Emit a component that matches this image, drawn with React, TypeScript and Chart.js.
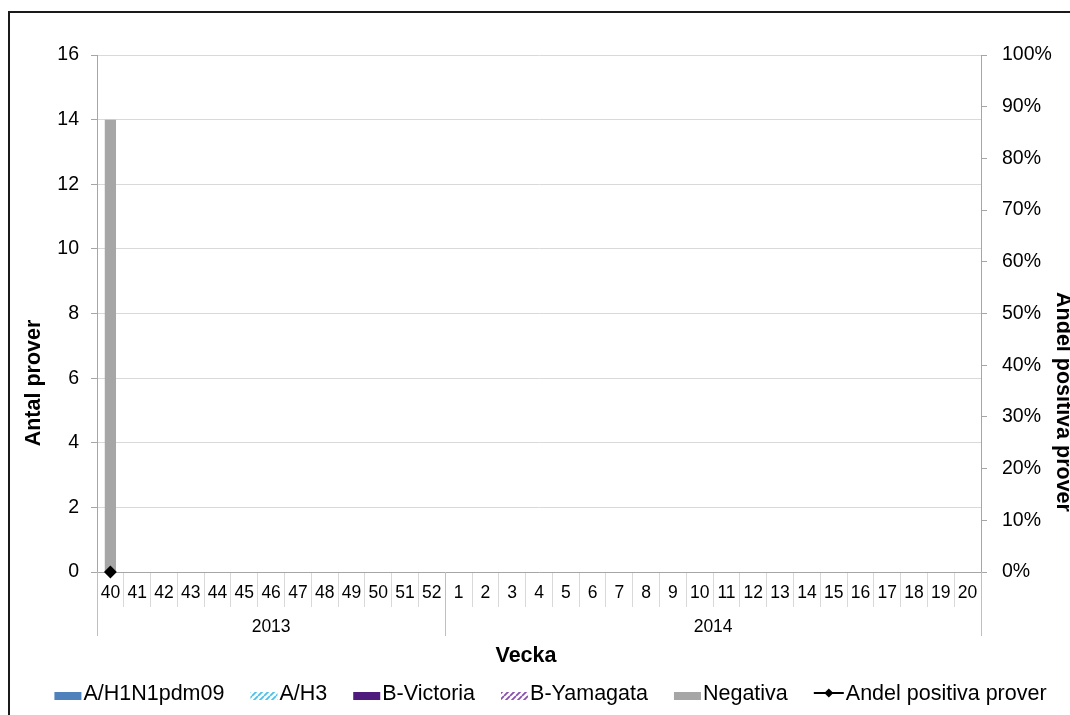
import React, { useEffect, useRef } from 'react';
import { Chart, registerables } from 'chart.js';

Chart.register(...registerables);

const FONT = '"Liberation Sans", Arial, sans-serif';

const weeks = ['40', '41', '42', '43', '44', '45', '46', '47', '48', '49', '50', '51', '52',
  '1', '2', '3', '4', '5', '6', '7', '8', '9', '10', '11', '12', '13', '14', '15', '16', '17', '18', '19', '20'];
const years = ['2013', '2014'];
const weeksPerYear = [13, 20];

const h1n1 = [0, null, null, null, null, null, null, null, null, null, null, null, null,
  null, null, null, null, null, null, null, null, null, null, null, null, null, null, null, null, null, null, null, null];
const h3 = [0, null, null, null, null, null, null, null, null, null, null, null, null,
  null, null, null, null, null, null, null, null, null, null, null, null, null, null, null, null, null, null, null, null];
const bVictoria = [0, null, null, null, null, null, null, null, null, null, null, null, null,
  null, null, null, null, null, null, null, null, null, null, null, null, null, null, null, null, null, null, null, null];
const bYamagata = [0, null, null, null, null, null, null, null, null, null, null, null, null,
  null, null, null, null, null, null, null, null, null, null, null, null, null, null, null, null, null, null, null, null];
const negativa = [14, null, null, null, null, null, null, null, null, null, null, null, null,
  null, null, null, null, null, null, null, null, null, null, null, null, null, null, null, null, null, null, null, null];
const andelPositiva = [0, null, null, null, null, null, null, null, null, null, null, null, null,
  null, null, null, null, null, null, null, null, null, null, null, null, null, null, null, null, null, null, null, null];

const leftTicks = { min: 0, max: 16, step: 2 };
const rightTicks = { min: 0, max: 1, step: 0.1 };

function makeHatch(color: string): CanvasPattern | string {
  const c = document.createElement('canvas');
  c.width = 6;
  c.height = 6;
  const g = c.getContext('2d');
  if (!g) return color;
  g.fillStyle = '#ffffff';
  g.fillRect(0, 0, 6, 6);
  g.strokeStyle = color;
  g.lineWidth = 1.8;
  g.beginPath();
  for (let k = -6; k <= 12; k += 6) {
    g.moveTo(k, 6);
    g.lineTo(k + 6, 0);
  }
  g.stroke();
  const p = g.createPattern(c, 'repeat');
  return p || color;
}

const decorPlugin = {
  id: 'decor',
  afterDraw(chart: any) {
    const ctx = chart.ctx as CanvasRenderingContext2D;
    const area = chart.chartArea;
    const x = chart.scales.x;
    ctx.save();

    // category group separators + year labels
    const bounds: number[] = [area.left];
    let idx = 0;
    weeksPerYear.forEach((n) => {
      idx += n;
      if (idx >= weeks.length) bounds.push(area.right);
      else bounds.push((x.getPixelForValue(idx - 1) + x.getPixelForValue(idx)) / 2);
    });
    ctx.strokeStyle = '#bfbfbf';
    ctx.lineWidth = 1;
    bounds.forEach((b) => {
      const px = Math.round(b) + 0.5;
      ctx.beginPath();
      ctx.moveTo(px, area.bottom);
      ctx.lineTo(px, area.bottom + 64);
      ctx.stroke();
    });
    ctx.fillStyle = '#000';
    ctx.font = `17.5px ${FONT}`;
    ctx.textAlign = 'center';
    ctx.textBaseline = 'middle';
    years.forEach((y, i) => {
      ctx.fillText(y, (bounds[i] + bounds[i + 1]) / 2, area.bottom + 55);
    });

    // axis titles
    ctx.font = `bold 21.5px ${FONT}`;
    ctx.fillText('Vecka', 526, 656);
    ctx.save();
    ctx.translate(34, 383);
    ctx.rotate(-Math.PI / 2);
    ctx.fillText('Antal prover', 0, 0);
    ctx.restore();
    ctx.save();
    ctx.translate(1063, 402);
    ctx.rotate(Math.PI / 2);
    ctx.fillText('Andel positiva prover', 0, 0);
    ctx.restore();

    // legend
    ctx.font = `21.5px ${FONT}`;
    ctx.textAlign = 'left';
    ctx.textBaseline = 'alphabetic';
    const boxW = 27;
    const boxGap = 2;
    const itemGap = 26;
    const items = chart.data.datasets.map((ds: any) => ({
      label: ds.label as string,
      isLine: ds.type === 'line',
      fill: ds.backgroundColor,
      tw: ctx.measureText(ds.label).width,
    }));
    const total = items.reduce((s: number, it: any) => s + boxW + boxGap + it.tw + (it.isLine ? 3 : 0), 0) + itemGap * (items.length - 1);
    let cx = 550.5 - total / 2;
    const baseY = 700;
    items.forEach((it: any) => {
      if (it.isLine) {
        ctx.strokeStyle = '#000';
        ctx.lineWidth = 2;
        ctx.beginPath();
        ctx.moveTo(cx, 693);
        ctx.lineTo(cx + boxW + 3, 693);
        ctx.stroke();
        const mx = cx + (boxW + 3) / 2;
        ctx.fillStyle = '#000';
        ctx.beginPath();
        ctx.moveTo(mx, 688.5);
        ctx.lineTo(mx + 4.5, 693);
        ctx.lineTo(mx, 697.5);
        ctx.lineTo(mx - 4.5, 693);
        ctx.closePath();
        ctx.fill();
        cx += 3;
      } else {
        ctx.fillStyle = it.fill;
        ctx.fillRect(cx, 692, boxW, 8);
      }
      ctx.fillStyle = '#000';
      ctx.fillText(it.label, cx + boxW + boxGap, baseY);
      cx += boxW + boxGap + it.tw + itemGap;
    });

    ctx.restore();
  },
};

export default function App() {
  const ref = useRef<HTMLCanvasElement>(null);

  useEffect(() => {
    if (!ref.current) return;
    Chart.defaults.font.family = FONT;
    const hatchH3 = makeHatch('#4bc0ea');
    const hatchBY = makeHatch('#8a4fb0');
    const chart = new Chart(ref.current, {
      type: 'bar',
      data: {
        labels: weeks,
        datasets: [
          { type: 'bar', label: 'A/H1N1pdm09', data: h1n1, backgroundColor: '#4f81bd', yAxisID: 'y', stack: 's', order: 1 },
          { type: 'bar', label: 'A/H3', data: h3, backgroundColor: hatchH3 as any, yAxisID: 'y', stack: 's', order: 1 },
          { type: 'bar', label: 'B-Victoria', data: bVictoria, backgroundColor: '#4e1a7e', yAxisID: 'y', stack: 's', order: 1 },
          { type: 'bar', label: 'B-Yamagata', data: bYamagata, backgroundColor: hatchBY as any, yAxisID: 'y', stack: 's', order: 1 },
          { type: 'bar', label: 'Negativa', data: negativa, backgroundColor: '#a6a6a6', yAxisID: 'y', stack: 's', order: 1 },
          {
            type: 'line', label: 'Andel positiva prover', data: andelPositiva, yAxisID: 'y1',
            borderColor: '#000', backgroundColor: '#000', borderWidth: 2, clip: false,
            pointStyle: 'rectRot', pointRadius: 5, pointBackgroundColor: '#000', pointBorderColor: '#000',
            order: 0,
          },
        ] as any,
      },
      options: {
        responsive: false,
        animation: false,
        layout: { padding: { top: 55, left: 0, right: 0, bottom: 0 } },
        datasets: { bar: { categoryPercentage: 0.42, barPercentage: 1 } } as any,
        plugins: { legend: { display: false }, tooltip: { enabled: false }, title: { display: false } },
        scales: {
          x: {
            type: 'category',
            stacked: true,
            offset: true,
            grid: { display: true, drawOnChartArea: false, drawTicks: true, tickLength: 35, offset: true, color: '#d9d9d9', lineWidth: 1 },
            border: { display: true, color: '#a6a6a6' },
            ticks: { font: { size: 17.5 }, color: '#000', padding: -24, maxRotation: 0, autoSkip: false },
            afterFit: (s: any) => { s.height = 143; },
          },
          y: {
            position: 'left',
            stacked: true,
            min: leftTicks.min,
            max: leftTicks.max,
            ticks: { stepSize: leftTicks.step, font: { size: 19.5 }, color: '#000', padding: 12 },
            grid: { color: '#d9d9d9', tickLength: 6, tickColor: '#a6a6a6' },
            border: { color: '#a6a6a6' },
            afterFit: (s: any) => { s.width = 97; },
          },
          y1: {
            position: 'right',
            min: rightTicks.min,
            max: rightTicks.max,
            ticks: {
              stepSize: rightTicks.step, font: { size: 19.5 }, color: '#000', padding: 15,
              callback: (v: any) => `${Math.round(Number(v) * 100)}%`,
            },
            grid: { drawOnChartArea: false, tickLength: 6, tickColor: '#a6a6a6' },
            border: { color: '#a6a6a6' },
            afterFit: (s: any) => { s.width = 89; },
          },
        },
      },
      plugins: [decorPlugin],
    });
    return () => chart.destroy();
  }, []);

  return (
    <div style={{ position: 'fixed', left: 0, top: 0, width: 1070, height: 715, overflow: 'hidden', background: '#fff' }}>
      <div style={{ position: 'absolute', left: 8, top: 11, width: 1200, height: 900, borderTop: '2px solid #1a1a1a', borderLeft: '2px solid #1a1a1a' }} />
      <canvas ref={ref} width={1070} height={715} style={{ position: 'absolute', left: 0, top: 0, width: 1070, height: 715 }} />
    </div>
  );
}
